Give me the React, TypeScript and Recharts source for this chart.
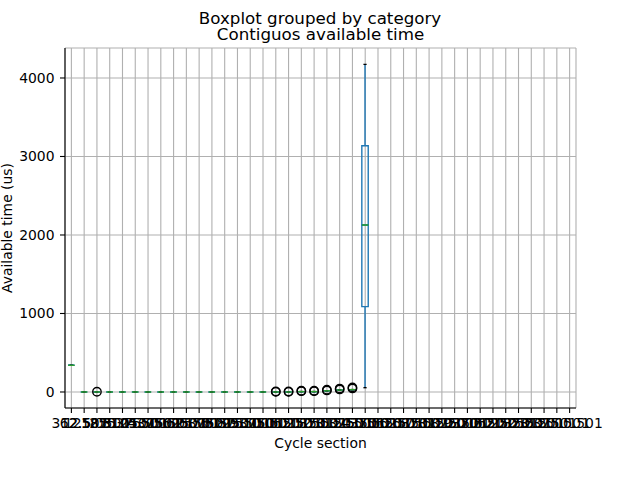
import React from 'react';
import { ComposedChart, Bar, Line, XAxis, YAxis, CartesianGrid } from 'recharts';

// Category tick labels (overlapping in the original)
const categories: string[] = [
  '312.5', '62.501', '125.0501', '1875.01', '250.0501', '3125.501', '375.0501', '4375.501',
  '500.0501', '5625.501', '625.0501', '6875.501', '750.0501', '8125.501', '875.0501', '9375.501',
  '1000.501', '1062.501', '1125.501', '1187.501', '1250.501', '1312.501', '1375.501', '1437.501',
  '1500.501', '1562.501', '1625.501', '1687.501', '1750.501', '1812.501', '1875.501', '1937.501',
  '2000.501', '2062.501', '2125.501', '2187.501', '2250.501', '2312.501', '2375.501', '1500.501',
];

// Box statistics for the first 24 categories (the rest are empty)
const whiskerLow: number[] = [340, 0, 0, 0, 0, 0, 0, 0, 0, 0, 0, 0, 0, 0, 0, 0, 0, 0, 5, 5, 15, 25, 30, 55];
const q1: number[] = [340, 0, 0, 0, 0, 0, 0, 0, 0, 0, 0, 0, 0, 0, 0, 0, 0, 0, 5, 5, 15, 25, 30, 1087];
const median: number[] = [340, 0, 0, 0, 0, 0, 0, 0, 0, 0, 0, 0, 0, 0, 0, 0, 0, 0, 5, 5, 15, 25, 30, 2127];
const q3: number[] = [340, 0, 0, 0, 0, 0, 0, 0, 0, 0, 0, 0, 0, 0, 0, 0, 0, 0, 5, 5, 15, 25, 30, 3137];
const whiskerHigh: number[] = [340, 0, 0, 0, 0, 0, 0, 0, 0, 0, 0, 0, 0, 0, 0, 0, 0, 0, 5, 5, 15, 25, 30, 4174];
const outliers: number[][] = [
  [], [], [3], [], [], [], [], [], [], [], [], [], [], [], [], [],
  [2, 6], [2, 6], [10, 16], [10, 16], [20, 30], [32, 44], [45, 57], [],
];

const yTicks: number[] = [0, 1000, 2000, 3000, 4000];

const BLUE = '#1f77b4';
const GREEN = '#2ca02c';
const FONT = 'DejaVu Sans';
const BOX_W = 6.4;

const data = categories.map((cat, i) => {
  const has = median[i] != null;
  return {
    cat,
    base: has ? whiskerLow[i] : null,
    lw: has ? q1[i] - whiskerLow[i] : null,
    b1: has ? median[i] - q1[i] : null,
    b2: has ? q3[i] - median[i] : null,
    uw: has ? whiskerHigh[i] - q3[i] : null,
    med: has ? median[i] : null,
    o1: outliers[i] && outliers[i][0] != null ? outliers[i][0] : null,
    o2: outliers[i] && outliers[i][1] != null ? outliers[i][1] : null,
  };
});

const Empty = () => <g />;

const LowerWhisker = (p: any) => {
  const { x, y, width, height, payload } = p;
  if (payload == null || payload.med == null) return <g />;
  const cx = x + width / 2;
  const cw = width / 4;
  return (
    <g>
      <line x1={cx} x2={cx} y1={y} y2={y + height} stroke={BLUE} strokeWidth={1.4} />
      <line x1={cx - cw} x2={cx + cw} y1={y + height} y2={y + height} stroke="#000" strokeWidth={1.4} />
    </g>
  );
};

const UpperWhisker = (p: any) => {
  const { x, y, width, height, payload } = p;
  if (payload == null || payload.med == null) return <g />;
  const cx = x + width / 2;
  const cw = width / 4;
  return (
    <g>
      <line x1={cx} x2={cx} y1={y} y2={y + height} stroke={BLUE} strokeWidth={1.4} />
      <line x1={cx - cw} x2={cx + cw} y1={y} y2={y} stroke="#000" strokeWidth={1.4} />
    </g>
  );
};

const BoxHalf = (p: any) => {
  const { x, y, width, height, payload } = p;
  if (payload == null || payload.med == null) return <g />;
  const d = `M${x},${y}H${x + width}V${y + height}H${x}Z`;
  return <path d={d} fill="none" stroke={BLUE} strokeWidth={1.4} />;
};

const MedianDot = (p: any) => {
  const { cx, cy, key } = p;
  if (cx == null || cy == null || isNaN(cy)) return <g key={key} />;
  return <line key={key} x1={cx - BOX_W / 2} x2={cx + BOX_W / 2} y1={cy} y2={cy} stroke={GREEN} strokeWidth={1.4} />;
};

const FlierDot = (p: any) => {
  const { cx, cy, key } = p;
  if (cx == null || cy == null || isNaN(cy)) return <g key={key} />;
  return <circle key={key} cx={cx} cy={cy} r={4.2} fill="none" stroke="#000" strokeWidth={1.4} />;
};

const tickStyle = { fontSize: 13.9, fill: '#000', fontFamily: FONT };
const domain: [number, number] = [-204, 4382];

export default function App() {
  return (
    <div style={{ position: 'absolute', left: 0, top: 0, width: 640, height: 480, background: '#fff' }}>
      <ComposedChart
        width={640}
        height={480}
        data={data}
        margin={{ top: 48, right: 64, bottom: 0, left: 0 }}
        barGap={0}
      >
        <CartesianGrid stroke="#b0b0b0" strokeWidth={1.1} />
        <XAxis
          dataKey="cat"
          type="category"
          interval={0}
          height={72}
          tickSize={5}
          tickMargin={5.6}
          tick={tickStyle}
          axisLine={{ stroke: '#000', strokeWidth: 1.1 }}
          tickLine={{ stroke: '#000', strokeWidth: 1.1 }}
        />
        <XAxis
          xAxisId="top"
          orientation="top"
          dataKey="cat"
          height={0}
          tick={false}
          tickLine={false}
          axisLine={{ stroke: '#000', strokeWidth: 1.1 }}
        />
        <YAxis
          type="number"
          domain={domain}
          ticks={yTicks}
          allowDataOverflow
          width={65}
          tickSize={5}
          tickMargin={5.5}
          tick={tickStyle}
          axisLine={{ stroke: '#000', strokeWidth: 1.1 }}
          tickLine={{ stroke: '#000', strokeWidth: 1.1 }}
        />
        <YAxis
          yAxisId="right"
          orientation="right"
          type="number"
          domain={domain}
          allowDataOverflow
          width={0}
          tick={false}
          tickLine={false}
          axisLine={{ stroke: '#000', strokeWidth: 1.1 }}
        />
        <Bar dataKey="base" stackId="box" barSize={BOX_W} shape={Empty} isAnimationActive={false} />
        <Bar dataKey="lw" stackId="box" barSize={BOX_W} shape={LowerWhisker} isAnimationActive={false} />
        <Bar dataKey="b1" stackId="box" barSize={BOX_W} shape={BoxHalf} isAnimationActive={false} />
        <Bar dataKey="b2" stackId="box" barSize={BOX_W} shape={BoxHalf} isAnimationActive={false} />
        <Bar dataKey="uw" stackId="box" barSize={BOX_W} shape={UpperWhisker} isAnimationActive={false} />
        <Line dataKey="med" stroke="none" dot={MedianDot} activeDot={false} isAnimationActive={false} />
        <Line dataKey="o1" stroke="none" dot={FlierDot} activeDot={false} isAnimationActive={false} />
        <Line dataKey="o2" stroke="none" dot={FlierDot} activeDot={false} isAnimationActive={false} />
      </ComposedChart>
      <svg
        width={640}
        height={480}
        style={{ position: 'absolute', left: 0, top: 0, pointerEvents: 'none' }}
      >
        <text x={320} y={24} textAnchor="middle" fontFamily={FONT} fontSize={16.7} fill="#000">
          Boxplot grouped by category
        </text>
        <text x={320.5} y={40} textAnchor="middle" fontFamily={FONT} fontSize={16.7} fill="#000">
          Contiguos available time
        </text>
        <text x={320.5} y={448} textAnchor="middle" fontFamily={FONT} fontSize={13.9} fill="#000">
          Cycle section
        </text>
        <text
          x={12}
          y={228}
          textAnchor="middle"
          fontFamily={FONT}
          fontSize={13.9}
          fill="#000"
          transform="rotate(-90, 12, 228)"
        >
          Available time (us)
        </text>
      </svg>
    </div>
  );
}
